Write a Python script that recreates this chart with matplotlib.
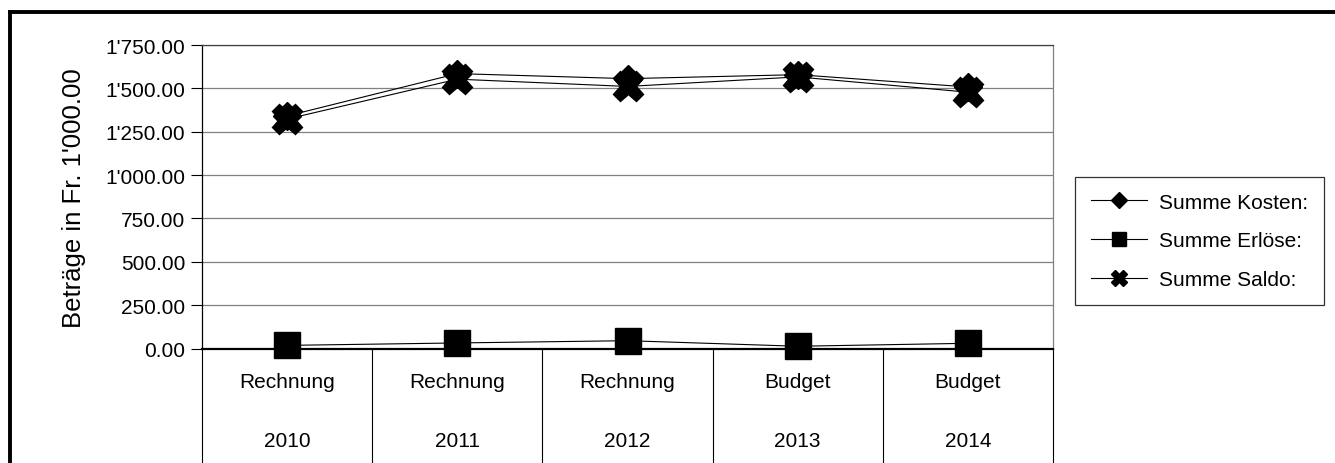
import matplotlib
matplotlib.use("Agg")
import matplotlib.pyplot as plt
from matplotlib.lines import Line2D
from matplotlib.ticker import FuncFormatter, MultipleLocator
import matplotlib.transforms as mtransforms

plt.rcParams['font.family'] = ['Liberation Sans', 'DejaVu Sans']

# Werte in Fr. 1'000.00
arten = ["Rechnung", "Rechnung", "Rechnung", "Budget", "Budget"]
jahre = ["2010", "2011", "2012", "2013", "2014"]
kosten = [1341, 1585, 1556, 1579, 1508]
erloese = [18, 32, 45, 13, 30]
saldo = [1323, 1553, 1511, 1566, 1478]

W, H = 1335, 464
fig = plt.figure(figsize=(W / 100, H / 100), dpi=100)

# Plotbereich in Pixeln
x0, x1 = 202, 1053
y_top, y_null = 46, 349.5
ax = fig.add_axes([x0 / W, 1 - y_null / H, (x1 - x0) / W, (y_null - y_top) / H])

pos = list(range(len(jahre)))
ax.plot(pos, kosten, color="black", lw=0.8, marker="D", ms=14.5, mfc="black", mec="black",
        clip_on=False, zorder=5)
ax.plot(pos, erloese, color="black", lw=0.8, marker="s", ms=18.5, mfc="black", mec="black",
        clip_on=False, zorder=6)
ax.plot(pos, saldo, color="black", lw=0.8, marker="X", ms=22, mfc="black", mec="black",
        clip_on=False, zorder=7)

ax.set_xlim(-0.5, len(jahre) - 0.5)
ax.set_ylim(0, 1750)
ax.yaxis.set_major_locator(MultipleLocator(250))
ax.yaxis.set_major_formatter(FuncFormatter(lambda v, p: f"{v:,.2f}".replace(",", "'")))
ax.grid(axis="y", color="#808080", lw=0.9)
ax.set_axisbelow(True)

ax.set_xticks([])
ax.tick_params(axis="y", direction="out", length=8, width=0.8, pad=4, labelsize=15)

ax.spines["left"].set_color("black")
ax.spines["left"].set_linewidth(0.9)
ax.spines["bottom"].set_color("black")
ax.spines["bottom"].set_linewidth(1.6)
ax.spines["bottom"].set_zorder(4)
ax.spines["top"].set_color("#404040")
ax.spines["top"].set_linewidth(0.9)
ax.spines["right"].set_color("#808080")
ax.spines["right"].set_linewidth(0.9)

ax.set_ylabel("Beträge in Fr. 1'000.00", fontsize=18.5, labelpad=14)

# mehrstufige Kategorienachse unter dem Plot
trans = mtransforms.blended_transform_factory(ax.transData, ax.transAxes)
unten = -(H - y_null) / (y_null - y_top) - 0.01
for k in range(len(jahre) + 1):
    ax.plot([k - 0.5, k - 0.5], [0, unten], color="black", lw=0.8,
            transform=trans, clip_on=False)
y_art = -(383 - y_null) / (y_null - y_top)
y_jahr = -(442 - y_null) / (y_null - y_top)
for k, (a, j) in enumerate(zip(arten, jahre)):
    ax.text(k, y_art, a, transform=trans, ha="center", va="center", fontsize=15)
    ax.text(k, y_jahr, j, transform=trans, ha="center", va="center", fontsize=15)

# Legende
handles = [
    Line2D([], [], color="black", lw=0.8, marker="D", ms=7.8, mfc="black", mec="black"),
    Line2D([], [], color="black", lw=0.8, marker="s", ms=9.5, mfc="black", mec="black"),
    Line2D([], [], color="black", lw=0.8, marker="X", ms=12, mfc="black", mec="black"),
]
leg = fig.legend(handles, ["Summe Kosten:", "Summe Erlöse:", "Summe Saldo:"],
                 loc="upper left", bbox_to_anchor=(1075 / W, 1 - 178 / H),
                 fontsize=15, frameon=True, fancybox=False, borderaxespad=0,
                 handlelength=2.7, handletextpad=0.6, labelspacing=0.95, borderpad=0.75)
leg.get_frame().set_edgecolor("black")
leg.get_frame().set_linewidth(0.9)

# Rahmen oben und links
fig.add_artist(Line2D([10 / W, 1], [1 - 13 / H, 1 - 13 / H], color="black", lw=2.8,
                      transform=fig.transFigure))
fig.add_artist(Line2D([10 / W, 10 / W], [1 - 13 / H, 0], color="black", lw=2.8,
                      transform=fig.transFigure))

fig.savefig("out.png", dpi=100, facecolor="white")
